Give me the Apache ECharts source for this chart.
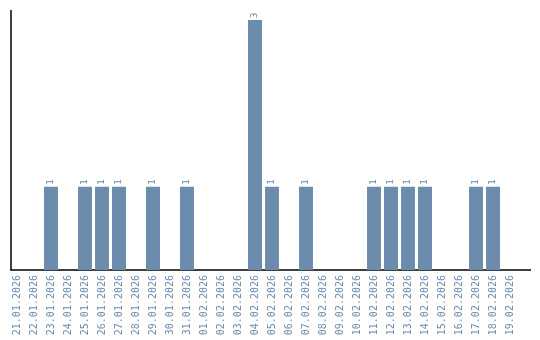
<!DOCTYPE html>
<html><head><meta charset="utf-8">
<script src="https://cdn.jsdelivr.net/npm/echarts@6/dist/echarts.min.js"></script>
<style>html,body{margin:0;padding:0;background:#fff}#c{width:540px;height:340px}</style>
</head><body><div id="c"></div>
<script>
const categories = ["21.01.2026","22.01.2026","23.01.2026","24.01.2026","25.01.2026","26.01.2026","27.01.2026","28.01.2026","29.01.2026","30.01.2026","31.01.2026","01.02.2026","02.02.2026","03.02.2026","04.02.2026","05.02.2026","06.02.2026","07.02.2026","08.02.2026","09.02.2026","10.02.2026","11.02.2026","12.02.2026","13.02.2026","14.02.2026","15.02.2026","16.02.2026","17.02.2026","18.02.2026","19.02.2026"];
const counts = [0,0,1,0,1,1,1,0,1,0,1,0,0,0,3,1,0,1,0,0,0,1,1,1,1,0,0,1,1,0];
const yMax = 3;

const textColor = '#6a8bae';
const barColor = '#6b8cad';
const chart = echarts.init(document.getElementById('c'), null, {renderer:'canvas'});
chart.setOption({
  animation:false,
  grid:{left:8.5, top:20, width:510, bottom:70, containLabel:false},
  xAxis:{type:'category', data:categories,
    axisLine:{show:false}, axisTick:{show:false},
    axisLabel:{rotate:90, interval:0, margin:5, color:textColor, fontFamily:'DejaVu Sans Mono', fontSize:10}},
  yAxis:{type:'value', min:0, max:yMax, axisLine:{show:false}, axisTick:{show:false}, axisLabel:{show:false}, splitLine:{show:false}},
  series:[{type:'bar', data:counts.map(v=>v===0?null:v), barCategoryGap:'18%',
    itemStyle:{color:barColor},
    label:{show:true, position:'top', rotate:90, align:'left', verticalAlign:'middle', distance:2,
      color:textColor, fontFamily:'DejaVu Sans Mono', fontSize:9}}],
  graphic:[
    {type:'line', shape:{x1:11, y1:10, x2:11, y2:270.5}, style:{stroke:'#000', lineWidth:1.5}},
    {type:'line', shape:{x1:10.5, y1:270, x2:531, y2:270}, style:{stroke:'#000', lineWidth:1.5}}
  ]
});
</script></body></html>
